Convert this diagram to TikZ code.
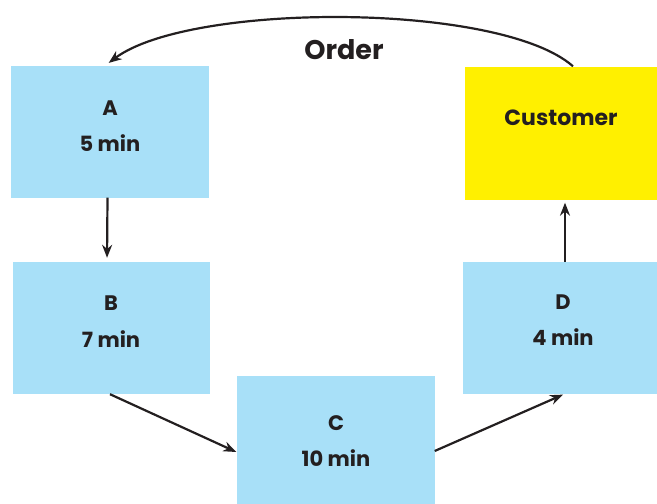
\documentclass[tikz,border=0pt]{standalone}
\usepackage{fontspec}
\setmainfont{Poppins}
\usetikzlibrary{arrows.meta}
\definecolor{boxblue}{RGB}{168,224,248}
\definecolor{boxyellow}{RGB}{255,240,0}
\definecolor{ink}{RGB}{35,31,32}
\tikzset{
  stepbox/.style={fill=boxblue, draw=none, minimum width=#1, inner sep=0pt},
  txt/.style={text=ink, font=\fontsize{21}{24}\selectfont\bfseries, align=center, inner sep=0pt},
  arr/.style={draw=ink, line width=2.2pt, -{Stealth[length=13pt,width=10pt]}}
}
\begin{document}
\begin{tikzpicture}[x=1pt,y=-1pt]
\useasboundingbox (0,0) rectangle (657,504);
\node[stepbox=198pt, minimum height=132pt] (A) at (109.5,131.5) {};
\node[fill=boxyellow, minimum width=192pt, minimum height=133pt, inner sep=0pt] (Cust) at (561,133) {};
\node[stepbox=197pt, minimum height=132pt] (B) at (111,328) {};
\node[stepbox=198pt, minimum height=128pt] (C) at (335.5,440) {};
\node[stepbox=194pt, minimum height=132pt] (D) at (560,328) {};

\node[txt] (At) at (110,108) {A};
\node[txt] (Am) at (110,143) {5 min};
\node[txt] (Bt) at (111,303) {B};
\node[txt] (Bm) at (111,339) {7 min};
\node[txt] (Ct) at (336,423) {C};
\node[txt] (Cm) at (336,458) {10 min};
\node[txt] (Dt) at (563,302) {D};
\node[txt] (Dm) at (563,337) {4 min};
\node[txt, font=\fontsize{22}{26}\selectfont\bfseries] (Ct2) at (561,118) {Customer};
\node[txt, font=\fontsize{27}{30}\selectfont\bfseries] (Ord) at (344,50) {Order};

\draw[arr, shorten >=4pt] ([xshift=-2pt]A.south) -- ([xshift=-4pt]B.north);
\draw[arr] ([xshift=-1pt]B.south) -- ([yshift=-12pt]C.west);
\draw[arr, shorten >=1pt] ([yshift=-11pt]C.east) -- ([xshift=4pt]D.south);
\draw[arr, shorten >=3pt] ([xshift=5pt]D.north) -- ([xshift=4pt]Cust.south);
\draw[arr, shorten >=4pt] ([xshift=12pt]Cust.north) .. controls (500,2) and (190,2) .. ([xshift=-4pt]A.north);
\end{tikzpicture}
\end{document}
